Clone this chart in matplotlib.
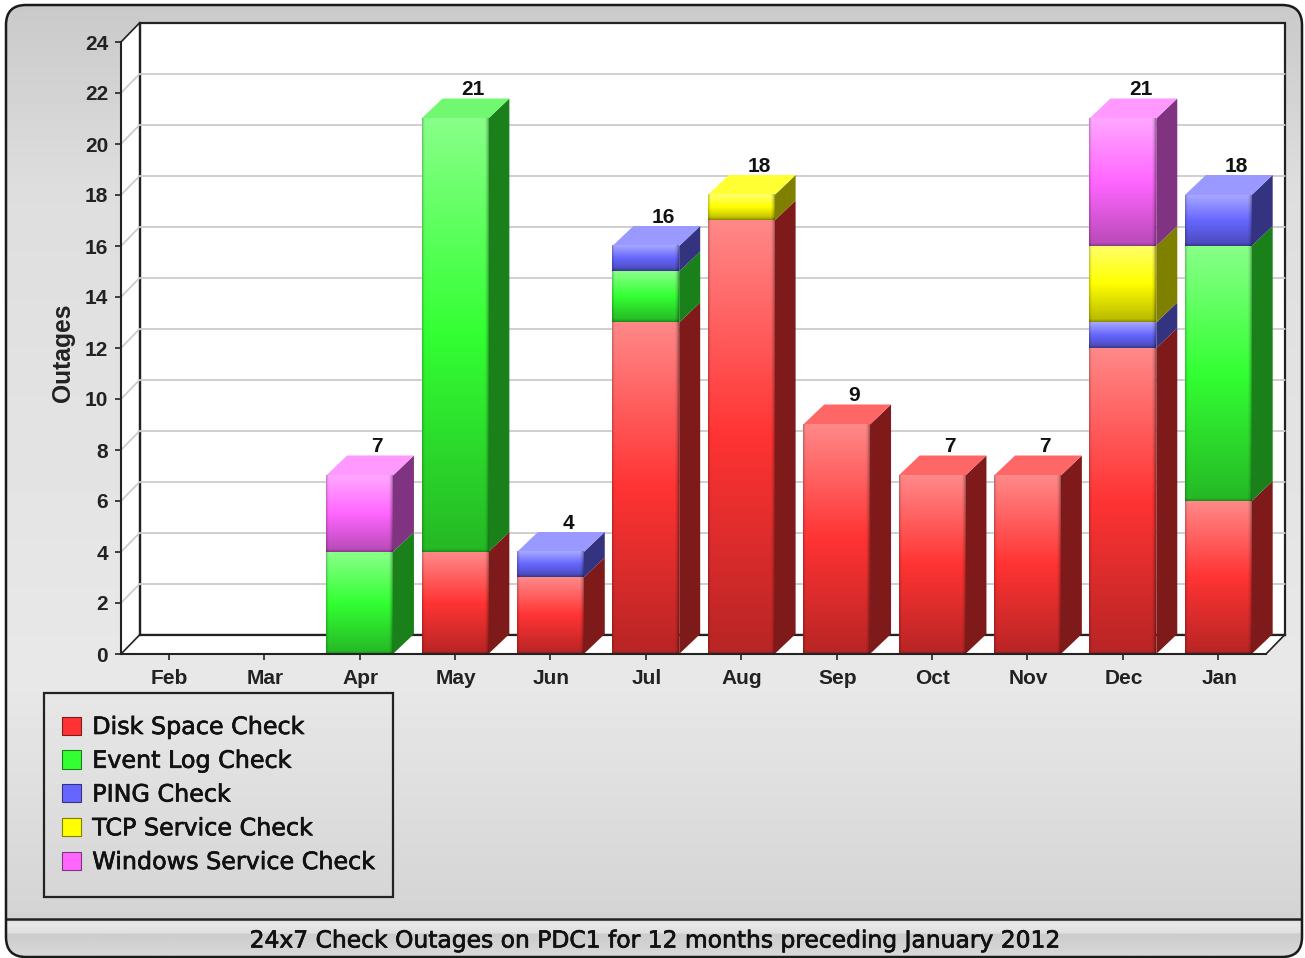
import numpy as np
import matplotlib
matplotlib.use("Agg")
import matplotlib.pyplot as plt
import matplotlib.patheffects as pe
from matplotlib.patches import Polygon, Rectangle, FancyBboxPatch, Patch
from matplotlib.transforms import ScaledTranslation

W, H = 1305, 958

# === data ===
months = ["Feb", "Mar", "Apr", "May", "Jun", "Jul", "Aug", "Sep", "Oct", "Nov", "Dec", "Jan"]
disk_space = [0, 0, 0, 4, 3, 13, 17, 9, 7, 7, 12, 6]
event_log = [0, 0, 4, 17, 0, 2, 0, 0, 0, 0, 0, 10]
ping = [0, 0, 0, 0, 1, 1, 0, 0, 0, 0, 1, 2]
tcp_service = [0, 0, 0, 0, 0, 0, 1, 0, 0, 0, 3, 0]
windows_service = [0, 0, 3, 0, 0, 0, 0, 0, 0, 0, 5, 0]
series_names = ["Disk Space Check", "Event Log Check", "PING Check", "TCP Service Check", "Windows Service Check"]
series_values = [disk_space, event_log, ping, tcp_service, windows_service]
y_ticks = list(range(0, 25, 2))

base_colors = ["#ff3333", "#33ff33", "#6666ff", "#ffff00", "#ff66ff"]
top_colors = ["#ff6666", "#70f870", "#9999ff", "#ffff33", "#ff99ff"]
side_colors = ["#7f1a1a", "#1a801a", "#333380", "#808000", "#803380"]
title = "24x7 Check Outages on PDC1 for 12 months preceding January 2012"

# 3d look
BAR_W = 0.70
WALL_DX, WALL_DY = 18.5 / 95.4, 19 / 25.5
BAR_DX, BAR_DY = 21 / 95.4, 20 / 25.5
PX_PER_UNIT = 25.5

plt.rcParams['font.family'] = ['Liberation Sans', 'DejaVu Sans']
plt.rcParams['image.composite_image'] = False
heavy = [pe.withStroke(linewidth=0.5, foreground="#111111")]


def rgb(c):
    return np.array(matplotlib.colors.to_rgb(c))


def bar_image(color, n):
    # light at top, plain in the middle, darker at the bottom, dark bevel round the edges
    c = rgb(color)
    rows = np.linspace(0, 1, n)
    light = c + (1 - c) * 0.42
    dark = c * 0.72
    img = np.zeros((n, 67, 3))
    for i, t in enumerate(rows):
        if t < 0.5:
            img[i, :] = light + (c - light) * t / 0.5
        else:
            img[i, :] = c + (dark - c) * (t - 0.5) / 0.5
    edge = np.ones(67)
    edge[:3] = [0.80, 0.90, 0.97]
    edge[-4:] = [0.96, 0.90, 0.80, 0.66]
    img = img * edge[None, :, None]
    img[-3:] = img[-3:] * np.array([0.95, 0.88, 0.78])[:, None, None]
    return img


fig = plt.figure(figsize=(W / 100, H / 100), dpi=100, facecolor="white")

# === background panel ===
bg = fig.add_axes([0, 0, 1, 1], zorder=0)
bg.set_xlim(0, W)
bg.set_ylim(H, 0)
bg.axis("off")
panel_grad = np.interp(np.arange(H), [5, 190, 680, 918], [0.79, 0.87, 0.91, 0.83])
im = bg.imshow(panel_grad[:, None], cmap="gray", vmin=0, vmax=1, extent=[0, W, H, 0], aspect="auto")
frame = FancyBboxPatch((6 + 18, 5 + 18), 1296 - 36, 952 - 36, boxstyle="round,pad=18,rounding_size=20",
                       fc="none", ec="#1a1a1a", lw=1.8, zorder=5)
bg.add_patch(frame)
im.set_clip_path(frame)
foot_y = np.arange(920, 957)
foot_grad = np.interp(foot_y, [920, 924, 932, 934, 956], [0.88, 0.91, 0.88, 0.80, 0.85])
foot = bg.imshow(foot_grad[:, None], cmap="gray", vmin=0, vmax=1, extent=[6, 1302, 957, 920], aspect="auto")
foot.set_clip_path(frame)
bg.set_xlim(0, W)
bg.set_ylim(H, 0)
bg.plot([7, 1301], [918.5, 918.5], color="#222222", lw=1.8, zorder=4)
bg.add_patch(Rectangle((44, 693), 349, 204, fc="none", ec="#222222", lw=1.6, zorder=4))
bg.text(654.5, 941, title, family="DejaVu Sans", fontsize=16.85, color="#111111", ha="center", va="center",
        path_effects=heavy)

# === main axes ===
ax = fig.add_axes([121 / W, (H - 654) / H, (1266 - 121) / W, (654 - 42) / H], zorder=1)
ax.patch.set_alpha(0)
ax.set_xlim(0, 12)
ax.set_ylim(0, 24)

# back wall, side wall and floor
ax.add_patch(Polygon([(0, 0), (WALL_DX, WALL_DY), (WALL_DX, 24 + WALL_DY), (0, 24)], fc="white", ec="none", clip_on=False, zorder=1))
ax.add_patch(Rectangle((WALL_DX, WALL_DY), 12, 24, fc="white", ec="#222222", lw=1.6, clip_on=False, zorder=1))
ax.add_patch(Polygon([(0, 0), (12, 0), (12 + WALL_DX, WALL_DY), (WALL_DX, WALL_DY)], fc="white", ec="none", clip_on=False, zorder=1))
ax.plot([0, WALL_DX], [24, 24 + WALL_DY], color="#222222", lw=1.2, clip_on=False, zorder=2)
ax.plot([12, 12 + WALL_DX], [0, WALL_DY], color="#222222", lw=1.2, clip_on=False, zorder=2)
ax.plot([0, WALL_DX], [0, WALL_DY], color="#222222", lw=1.2, clip_on=False, zorder=2)
ax.plot([WALL_DX, WALL_DX], [WALL_DY, 24 + WALL_DY], color="#222222", lw=1.6, clip_on=False, zorder=2)
ax.plot([WALL_DX, 12 + WALL_DX], [WALL_DY, WALL_DY], color="#222222", lw=1.6, clip_on=False, zorder=2)
for v in y_ticks[1:-1]:
    ax.plot([0, WALL_DX, 12 + WALL_DX], [v, v + WALL_DY, v + WALL_DY], color="#cccccc", lw=1.3, clip_on=False, zorder=2)

# stacked bars
totals = np.sum(series_values, axis=0)
bottoms = np.zeros(len(months))
for s, vals in enumerate(series_values):
    for i, v in enumerate(vals):
        if v == 0:
            continue
        x0 = i + 0.5 - BAR_W / 2
        x1 = x0 + BAR_W
        y0 = bottoms[i]
        y1 = y0 + v
        ax.add_patch(Polygon([(x1, y0), (x1 + BAR_DX, y0 + BAR_DY), (x1 + BAR_DX, y1 + BAR_DY), (x1, y1)],
                             fc=side_colors[s], ec="none", clip_on=False, zorder=3))
        ax.imshow(bar_image(base_colors[s], int(v * PX_PER_UNIT)), extent=[x0, x1, y0, y1], aspect="auto",
                  interpolation="bilinear", zorder=3.5, clip_on=False)
        if y1 == totals[i]:
            ax.add_patch(Polygon([(x0, y1), (x1, y1), (x1 + BAR_DX, y1 + BAR_DY), (x0 + BAR_DX, y1 + BAR_DY)],
                                 fc=top_colors[s], ec="none", clip_on=False, zorder=3))
    bottoms += np.array(vals)

# value labels
for i, t in enumerate(totals):
    if t > 0:
        ax.text(i + 0.5 + 0.185, t + BAR_DY - 0.03, str(t), fontsize=15, weight="bold", color="#111111",
                ha="center", va="bottom", zorder=6, clip_on=False)

ax.set_xlim(0, 12)
ax.set_ylim(0, 24)
ax.set_xticks([i + 0.5 for i in range(len(months))])
ax.set_xticklabels(months, fontsize=15, weight="bold", color="#222222")
ax.set_yticks(y_ticks)
ax.set_yticklabels([str(v) for v in y_ticks], fontsize=15, weight="bold", color="#222222")
ax.tick_params(axis="x", length=4.2, width=1.2, pad=6.5, color="#222222")
ax.tick_params(axis="y", length=4.2, width=1.2, pad=5, color="#222222")
shift = ScaledTranslation(1 / 100, 0, fig.dpi_scale_trans)
for lab in ax.get_xticklabels():
    lab.set_transform(lab.get_transform() + shift)
for side in ["top", "right"]:
    ax.spines[side].set_visible(False)
for side in ["left", "bottom"]:
    ax.spines[side].set_linewidth(1.5)
    ax.spines[side].set_color("#222222")
    ax.spines[side].set_zorder(7)
ax.set_ylabel("Outages", fontsize=17.7, weight="bold", color="#222222")
ax.yaxis.set_label_coords((75 - 121) / (1266 - 121), (654 - 353) / (654 - 42))

# === legend ===
handles = [Patch(fc=c, ec=side_colors[i], lw=0.8, label=series_names[i]) for i, c in enumerate(base_colors)]
leg = fig.legend(handles=handles, loc="upper left", bbox_to_anchor=(62 / W, 1 - 715 / H), borderaxespad=0,
                 prop={"family": "DejaVu Sans", "size": 17.15}, frameon=False, labelcolor="#111111",
                 handlelength=0.8, handleheight=0.8, handletextpad=0.47, labelspacing=0.41, borderpad=0)
leg.set_zorder(6)
for t in leg.get_texts():
    t.set_path_effects(heavy)

fig.savefig("out.png", dpi=100, facecolor="white")
